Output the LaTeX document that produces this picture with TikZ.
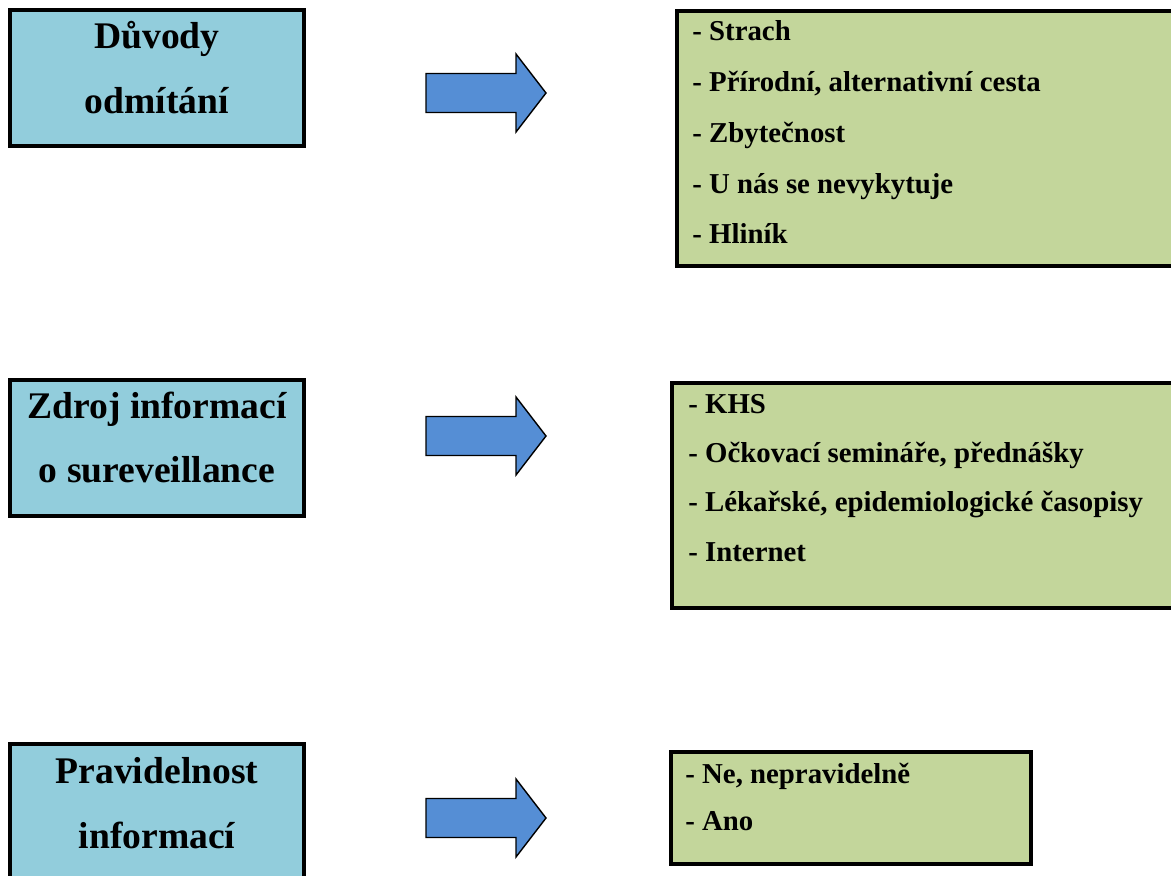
\documentclass[tikz,border=0pt]{standalone}
\usepackage{fontspec}
\setmainfont{Liberation Serif}
\definecolor{boxblue}{HTML}{92CDDC}
\definecolor{boxgreen}{HTML}{C3D69B}
\definecolor{arrowblue}{HTML}{558ED5}

\begin{document}
\begin{tikzpicture}[x=0.02cm,y=-0.02cm,
	topicbox/.style={draw=black,line width=2.3pt,fill=boxblue},
	answerbox/.style={draw=black,line width=2.3pt,fill=boxgreen},
	topictext/.style={font=\fontsize{21.4}{25}\selectfont\bfseries,anchor=base,inner sep=0pt},
	answertext/.style={font=\fontsize{16.4}{19}\selectfont\bfseries,anchor=base west,inner sep=0pt},
	bigarrow/.style={draw=black,line width=0.8pt,fill=arrowblue,line join=miter}]
	\newcommand\blockarrow[1]{\draw[bigarrow] (426,#1-19.5) -- (516,#1-19.5) -- (516,#1-39) -- (546,#1) -- (516,#1+39) -- (516,#1+19.5) -- (426,#1+19.5) -- cycle;}
	\useasboundingbox (0,0) rectangle (1171,876);

	% first row
	\draw[topicbox] (10,10) rectangle (304,146);
	\node[topictext] (duvody) at (157,48) {Důvody};
	\node[topictext] (odmitani) at (157,113) {odmítání};
	\blockarrow{93}
	\draw[answerbox] (677,11) rectangle (1200,266);
	\node[answertext] (strach) at (692,40) {- Strach};
	\node[answertext] (prirodni) at (692,91) {- Přírodní, alternativní cesta};
	\node[answertext] (zbytecnost) at (692,142) {- Zbytečnost};
	\node[answertext] (unas) at (692,193) {- U nás se nevykytuje};
	\node[answertext] (hlinik) at (692,243) {- Hliník};

	% second row
	\draw[topicbox] (10,380) rectangle (304,516);
	\node[topictext] (zdroj) at (157,418) {Zdroj informací};
	\node[topictext] (surv) at (157,482) {o sureveillance};
	\blockarrow{436}
	\draw[answerbox] (672,383) rectangle (1200,608);
	\node[answertext] (khs) at (688,413) {- KHS};
	\node[answertext] (seminare) at (688,462) {- Očkovací semináře, přednášky};
	\node[answertext] (casopisy) at (688,511) {- Lékařské, epidemiologické časopisy};
	\node[answertext] (internet) at (688,561) {- Internet};

	% third row
	\draw[topicbox] (10,744) rectangle (304,900);
	\node[topictext] (pravidelnost) at (157,783) {Pravidelnost};
	\node[topictext] (informaci) at (157,848) {informací};
	\blockarrow{818}
	\draw[answerbox] (671,752) rectangle (1031,864);
	\node[answertext] (ne) at (685,783) {- Ne, nepravidelně};
	\node[answertext] (ano) at (685,830) {- Ano};
\end{tikzpicture}
\end{document}
